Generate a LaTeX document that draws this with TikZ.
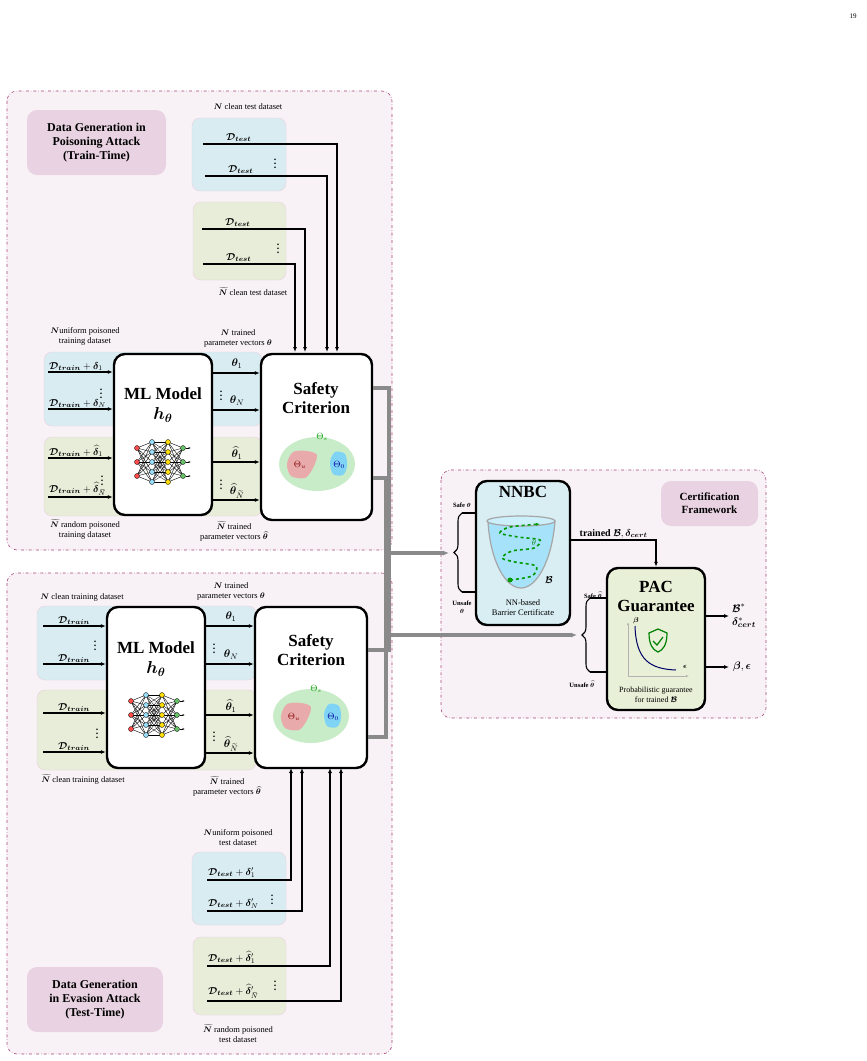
\documentclass[tikz,border=0pt]{standalone}
\usepackage{amsmath,bm}
\usepackage{fontspec}
\setmainfont{Liberation Serif}
\usetikzlibrary{arrows.meta,positioning,decorations.pathreplacing}

\definecolor{panelline}{HTML}{A8457A}
\definecolor{panelfill}{HTML}{F8F2F6}
\definecolor{tagfill}{HTML}{E9D3E2}
\definecolor{bandblue}{HTML}{D8ECF2}
\definecolor{bandgreen}{HTML}{E7EDD8}
\definecolor{safegreen}{HTML}{C8ECC8}
\definecolor{unsafered}{HTML}{E8AAAA}
\definecolor{initblue}{HTML}{7FD3F5}
\definecolor{flowgray}{HTML}{8A8A8A}
\definecolor{nnbcfill}{HTML}{D9EEF3}
\definecolor{pacfill}{HTML}{E8F0D8}

\tikzset{
  panel/.style={draw=panelline, fill=panelfill, dash dot, rounded corners=10pt, line width=0.6pt},
  tag/.style={fill=tagfill, rounded corners=10pt, align=center, font=\fontsize{12}{14}\selectfont\bfseries},
  band/.style={rounded corners=8pt, draw=panelline!25, line width=0.4pt},
  bigbox/.style={draw, line width=2.4pt, rounded corners=11pt, fill=white},
  boxtitle/.style={align=center, font=\fontsize{17}{19}\selectfont\bfseries},
  lbl/.style={align=center, font=\fontsize{8.5}{10}\selectfont, inner sep=0.5pt},
  mth/.style={font=\fontsize{10}{11}\selectfont, inner sep=1pt},
  feed/.style={line width=1.3pt, -{Latex[length=5pt,width=4pt]}},
  flow/.style={draw=flowgray, line width=3.5pt},
  flowarr/.style={flow, -{Latex[length=6pt,width=5pt]}},
  vdots/.style={font=\fontsize{10}{10}\selectfont\bfseries, inner sep=0pt},
  nnet/.pic={
    \foreach \a in {-14,0,14}{\foreach \b in {-20,-10,0,10,20}{
      \draw[line width=0.4pt] (-23,\a) -- (-8,\b);
      \draw[line width=0.4pt] (8,\b) -- (23,\a);}}
    \foreach \a in {-20,-10,0,10,20}{\foreach \b in {-20,-10,0,10,20}{
      \draw[line width=0.3pt] (-8,\a) -- (8,\b);}}
    \foreach \a in {-14,0,14}{
      \fill[red!70!white, draw=black, line width=0.3pt] (-23,\a) circle (2.5);
      \fill[green!60!black!60, draw=black, line width=0.3pt] (23,\a) circle (2.5);
      \draw[line width=0.6pt, -{Latex[length=2.5pt]}] (25.5,\a) -- (31,\a);}
    \foreach \a in {-20,-10,0,10,20}{
      \fill[cyan!40, draw=black, line width=0.3pt] (-8,\a) circle (2.5);
      \fill[yellow!80!orange, draw=black, line width=0.3pt] (8,\a) circle (2.5);}
  },
  regions/.pic={
    \fill[safegreen] (0,0) ellipse (38 and 27);
    \fill[unsafered] plot[smooth cycle] coordinates {(-30,0) (-24,-12) (-10,-13) (0,-9) (-4,4) (-12,14) (-26,12)};
    \fill[initblue] plot[smooth cycle] coordinates {(13,-2) (18,-12) (28,-10) (30,2) (26,11) (16,10)};
    \node[font=\fontsize{9}{9}\selectfont, text=red!50!black] at (-17,1) {$\Theta_u$};
    \node[font=\fontsize{9}{9}\selectfont, text=blue!60!black] at (22,1) {$\Theta_0$};
    \node[font=\fontsize{9}{9}\selectfont, text=green!60!black] at (5,-27) {$\Theta_s$};
  }
}

\newcommand{\Dtr}{\bm{\mathcal{D}}_{\bm{train}}}
\newcommand{\Dte}{\bm{\mathcal{D}}_{\bm{test}}}
\newcommand{\Nt}{\widetilde{\bm N}}

\begin{document}
\begin{tikzpicture}[x=1pt,y=-1pt]
\useasboundingbox (0,0) rectangle (867,1061);
\node[font=\fontsize{7}{7}\selectfont] (pg) at (853,16) {19};

% panels
\draw[panel] (7,91) rectangle (392,550);
\draw[panel] (7,573) rectangle (392,1054);
\draw[panel] (441,470) rectangle (766,718);
\node[tag, minimum width=139, minimum height=65] (tagtop) at (96.5,142.5) {Data Generation in\\Poisoning Attack\\(Train-Time)};
\node[tag, minimum width=136, minimum height=65] (tagbot) at (95,999.5) {Data Generation\\in Evasion Attack\\(Test-Time)};
\node[tag, minimum width=97, minimum height=45, font=\fontsize{11}{13}\selectfont\bfseries] (tagcert) at (709.5,503.5) {Certification\\Framework};

%%% ---- train-time panel ----
\fill[band, fill=bandblue] (192,118) rectangle (286,191);
\fill[band, fill=bandgreen] (193,202) rectangle (286,280);
\draw[band, fill=bandblue] (44,352) rectangle (262,426);
\draw[band, fill=bandgreen] (44,437) rectangle (262,516);
\node[lbl] (ctop) at (248,107) {$\bm N$ clean test dataset};
\node[lbl] (cbot) at (253,292) {$\Nt$ clean test dataset};

\node[bigbox, minimum width=98, minimum height=161] (ml1) at (163,434.5) {};
\node[bigbox, minimum width=111, minimum height=166] (sc1) at (316.5,437) {};
\node[boxtitle] (ml1t) at (163,405) {ML Model\\[1pt]$\bm{h_\theta}$};
\node[boxtitle] (sc1t) at (316,398) {Safety\\Criterion};
\pic at (160,462) {nnet};
\pic at (317,464) {regions};

% test data into safety criterion
\foreach \n/\xs/\y/\xe/\t in {a/203/144/337/{\Dte}, b/205/176/327/{\Dte}, c/202/229/305/{\Dte}, d/203/264/295/{\Dte}}{
  \coordinate (s\n) at (\xs,\y);
  \coordinate (e\n) at (\xe,352);
  \draw[feed] (s\n) -| (e\n);
  \node[mth, above right=1pt and 22pt of s\n] {$\t$};
}
\node[vdots] (dt1) at (275,161) {$\vdots$};
\node[vdots] (dt2) at (278,246) {$\vdots$};

% training data into ML model
\foreach \n/\y/\t in {a/372/{\Dtr+\bm\delta_1}, b/409/{\Dtr+\bm\delta_N}, c/458/{\Dtr+\widehat{\bm\delta}_1}, d/497/{\Dtr+\widehat{\bm\delta}_{\widetilde N}}}{
  \coordinate (l\n) at (48,\y);
  \draw[feed] (l\n) -- (l\n -| ml1.west);
  \node[mth, above right=0pt and 0pt of l\n] {$\t$};
}
\node[vdots] (dl1) at (101,391) {$\vdots$};
\node[vdots] (dl2) at (102,478) {$\vdots$};
\node[lbl] (ltop) at (85,336) {$\bm N$uniform poisoned\\training dataset};
\node[lbl] (lbot) at (85,529) {$\Nt$ random poisoned\\training dataset};

% parameter vectors
\foreach \n/\y/\t in {a/373/{\bm\theta_1}, b/410/{\bm\theta_N}, c/462/{\widehat{\bm\theta}_1}, d/500/{\widehat{\bm\theta}_{\widetilde N}}}{
  \coordinate (m\n) at (ml1.east |- 0,\y);
  \draw[feed] (m\n) -- (m\n -| sc1.west);
  \node[mth, font=\fontsize{11}{11}\selectfont] at (237,\y-9) {$\t$};
}
\node[vdots] (dm1) at (221,393) {$\vdots$};
\node[vdots] (dm2) at (221,482) {$\vdots$};
\node[lbl] (mtop) at (238,338) {$\bm N$ trained\\parameter vectors $\bm\theta$};
\node[lbl] (mbot) at (234,531) {$\Nt$ trained\\parameter vectors $\widehat{\bm\theta}$};

%%% ---- test-time panel ----
\draw[band, fill=bandblue] (37,606) rectangle (256,680);
\draw[band, fill=bandgreen] (37,690) rectangle (256,770);
\fill[band, fill=bandblue] (192,852) rectangle (286,925);
\fill[band, fill=bandgreen] (193,937) rectangle (286,1015);
\node[bigbox, minimum width=98, minimum height=161] (ml2) at (156,687.5) {};
\node[bigbox, minimum width=112, minimum height=161] (sc2) at (311,687.5) {};
\node[boxtitle] (ml2t) at (156,659) {ML Model\\[1pt]$\bm{h_\theta}$};
\node[boxtitle] (sc2t) at (311,650) {Safety\\Criterion};
\pic at (154,715) {nnet};
\pic at (311,716) {regions};

\foreach \n/\y/\t in {a/626/{\Dtr}, b/664/{\Dtr}, c/713/{\Dtr}, d/752/{\Dtr}}{
  \coordinate (k\n) at (43,\y);
  \draw[feed] (k\n) -- (k\n -| ml2.west);
  \node[mth, above right=0pt and 14pt of k\n] {$\t$};
}
\node[vdots] (dk1) at (95,643) {$\vdots$};
\node[vdots] (dk2) at (97,731) {$\vdots$};
\node[lbl] (ktop) at (82,597) {$\bm N$ clean training dataset};
\node[lbl] (kbot) at (83,779) {$\Nt$ clean training dataset};

\foreach \n/\y/\t in {a/626/{\bm\theta_1}, b/664/{\bm\theta_N}, c/715/{\widehat{\bm\theta}_1}, d/753/{\widehat{\bm\theta}_{\widetilde N}}}{
  \coordinate (q\n) at (ml2.east |- 0,\y);
  \draw[feed] (q\n) -- (q\n -| sc2.west);
  \node[mth, font=\fontsize{11}{11}\selectfont] at (231,\y-9) {$\t$};
}
\node[vdots] (dq1) at (214,646) {$\vdots$};
\node[vdots] (dq2) at (214,734) {$\vdots$};
\node[lbl] (qtop) at (231,591) {$\bm N$ trained\\parameter vectors $\bm\theta$};
\node[lbl] (qbot) at (227,786) {$\Nt$ trained\\parameter vectors $\widehat{\bm\theta}$};

\foreach \n/\y/\xe/\t in {a/880/291/{\Dte+\bm\delta'_1}, b/911/302/{\Dte+\bm\delta'_N}, c/966/330/{\Dte+\widehat{\bm\delta}'_1}, d/1001/341/{\Dte+\widehat{\bm\delta}'_{\widetilde N}}}{
  \coordinate (u\n) at (207,\y);
  \coordinate (v\n) at (\xe,768);
  \draw[feed] (u\n) -| (v\n);
  \node[mth, above right=1pt and 0pt of u\n] {$\t$};
}
\node[vdots] (du1) at (272,897) {$\vdots$};
\node[vdots] (du2) at (275,983) {$\vdots$};
\node[lbl] (utop) at (238,838) {$\bm N$uniform poisoned\\test dataset};
\node[lbl] (ubot) at (238,1034) {$\Nt$ random poisoned\\test dataset};

%%% ---- certification framework ----
\node[bigbox, fill=nnbcfill, minimum width=94, minimum height=144] (nnbc) at (523,553) {};
\node[boxtitle, below=3pt of nnbc.north] (nnbct) {NNBC};
\fill[cyan!35, draw=gray!70, line width=1.2pt] (488,521) .. controls (490,560) and (505,588) .. (521,588) .. controls (537,588) and (552,560) .. (555,521) -- cycle;
\draw[gray!70, line width=1.2pt, fill=cyan!20] (521,521) ellipse (34 and 5);
\draw[green!60!black, dashed, line width=1.6pt, -{Latex[length=4pt]}] plot[smooth] coordinates {(510,580) (532,576) (536,566) (515,562) (502,558) (512,551) (534,548) (540,540) (518,537) (500,533) (510,527) (540,524)};
\fill[green!60!black] (510,580) circle (2.5);
\node[mth] (bsym) at (549,580) {$\bm{\mathcal B}$};
\node[mth, text=green!50!black, font=\fontsize{8}{8}\selectfont] (thsym) at (534,543) {$\theta$};
\node[lbl] (nnbcl) at (523,608) {NN-based\\Barrier Certificate};

\node[bigbox, fill=pacfill, minimum width=98, minimum height=142] (pac) at (656,639) {};
\node[boxtitle] (pact) at (656,596) {PAC\\Guarantee};
\coordinate (ax0) at (628,676);
\draw[gray!60, line width=0.8pt, -{Latex[length=3pt]}] (ax0) -- (628,622);
\draw[gray!60, line width=0.8pt, -{Latex[length=3pt]}] (ax0) -- (689,676);
\draw[blue!40!black, line width=1pt] (635,626) .. controls (636,660) and (650,669) .. (676,670);
\node[mth, font=\fontsize{7}{7}\selectfont] (betasym) at (636,621) {$\bm\beta$};
\node[mth, font=\fontsize{7}{7}\selectfont] (epssym) at (685,667) {$\bm\epsilon$};
\draw[green!50!black, line width=1.2pt] (658,629) -- (667,633) .. controls (667,645) and (663,650) .. (658,652) .. controls (653,650) and (649,645) .. (649,633) -- cycle;
\draw[green!50!black, line width=1.2pt] (653,641) -- (657,645) -- (663,637);
\node[lbl, font=\fontsize{8}{9.5}\selectfont] (pacl) at (656,695) {Probabilistic guarantee\\for trained $\bm{\mathcal B}$};

% braces
\draw[line width=1.1pt, decorate, decoration={brace, amplitude=8pt}] (462,592) -- (462,513);
\draw[line width=1.1pt] (462,513) -- (nnbc.west |- 0,513);
\draw[line width=1.1pt] (462,592) -- (nnbc.west |- 0,592);
\coordinate (brntip) at (449,553);
\node[lbl, font=\fontsize{6.5}{7.5}\selectfont\bfseries] (safe1) at (462,505) {Safe $\bm\theta$};
\node[lbl, font=\fontsize{6.5}{7.5}\selectfont\bfseries] (unsafe1) at (462,607) {Unsafe\\$\bm\theta$};

\draw[line width=1.1pt, decorate, decoration={brace, amplitude=8pt}] (590,672) -- (590,598);
\draw[line width=1.1pt] (590,598) -- (pac.west |- 0,598);
\draw[line width=1.1pt] (590,672) -- (pac.west |- 0,672);
\coordinate (brptip) at (577,635);
\node[lbl, font=\fontsize{6.5}{7.5}\selectfont\bfseries] (safe2) at (593,595) {Safe $\widehat{\bm\theta}$};
\node[lbl, font=\fontsize{6.5}{7.5}\selectfont\bfseries] (unsafe2) at (582,684) {Unsafe $\widehat{\bm\theta}$};

% gray flows from the safety criteria
\coordinate (g1) at (389,553);
\coordinate (g2) at (386,635);
\draw[flow] (sc1.east |- 0,388) -| (g1);
\draw[flow] (sc2.east |- 0,650) -| (g1);
\draw[flow] (sc1.east |- 0,478) -| (g2);
\draw[flow] (sc2.east |- 0,737) -| (g2);
\draw[flowarr] (g1) -- (brntip);
\draw[flowarr] (g2) -- (brptip);

% certificate to PAC and outputs
\draw[feed] (nnbc.east |- 0,540) -| (pac.north) node[pos=0.25, above, mth] {\textbf{trained} $\bm{\mathcal B},\bm\delta_{\bm{cert}}$};
\coordinate (o1) at (729,616);
\coordinate (o2) at (729,667);
\draw[feed] (pac.east |- o1) -- (o1);
\draw[feed] (pac.east |- o2) -- (o2);
\node[mth, right=2pt of o1, align=left, font=\fontsize{11}{13}\selectfont] (out1) {$\bm{\mathcal B}^*$\\$\bm\delta^*_{\bm{cert}}$};
\node[mth, right=3pt of o2, font=\fontsize{11}{11}\selectfont] (out2) {$\bm\beta,\bm\epsilon$};
\end{tikzpicture}
\end{document}
